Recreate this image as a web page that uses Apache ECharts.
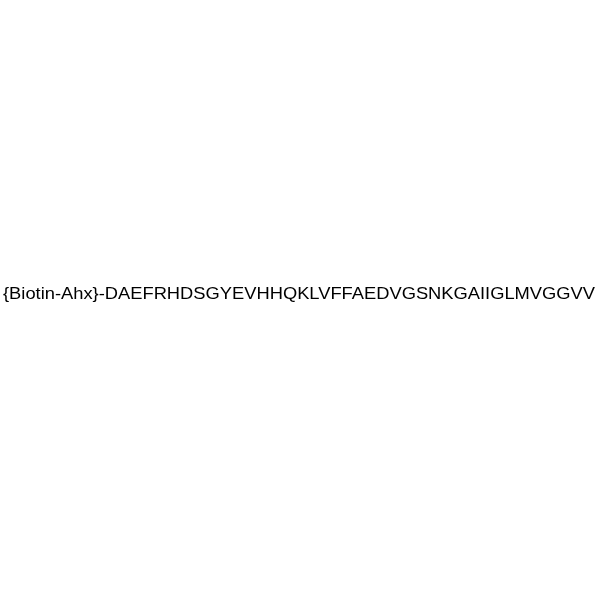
<!DOCTYPE html>
<html>
<head>
<meta charset="utf-8">
<script src="https://cdn.jsdelivr.net/npm/echarts@6/dist/echarts.min.js"></script>
<style>
  html, body { margin: 0; padding: 0; background: #fff; }
  #chart { width: 600px; height: 600px; }
</style>
</head>
<body>
<div id="chart"></div>
<script>
// sequence label drawn as the only content
const prefix = '{Biotin-Ahx}';
const sequence = 'DAEFRHDSGYEVHHQKLVFFAEDVGSNKGAIIGLMVGGVV';

const chart = echarts.init(document.getElementById('chart'), null, { renderer: 'canvas' });
chart.setOption({
    backgroundColor: '#ffffff',
    animation: false,
    graphic: [{
        type: 'text',
        x: 299,
        y: 294.5,
        scaleX: 1.11,
        style: {
            x: 0,
            y: 0,
            text: prefix + '-' + sequence,
            fontFamily: 'Liberation Sans, Arial, sans-serif',
            fontSize: 16.5,
            align: 'center',
            verticalAlign: 'middle',
            fill: '#000000'
        }
    }]
});
</script>
</body>
</html>
